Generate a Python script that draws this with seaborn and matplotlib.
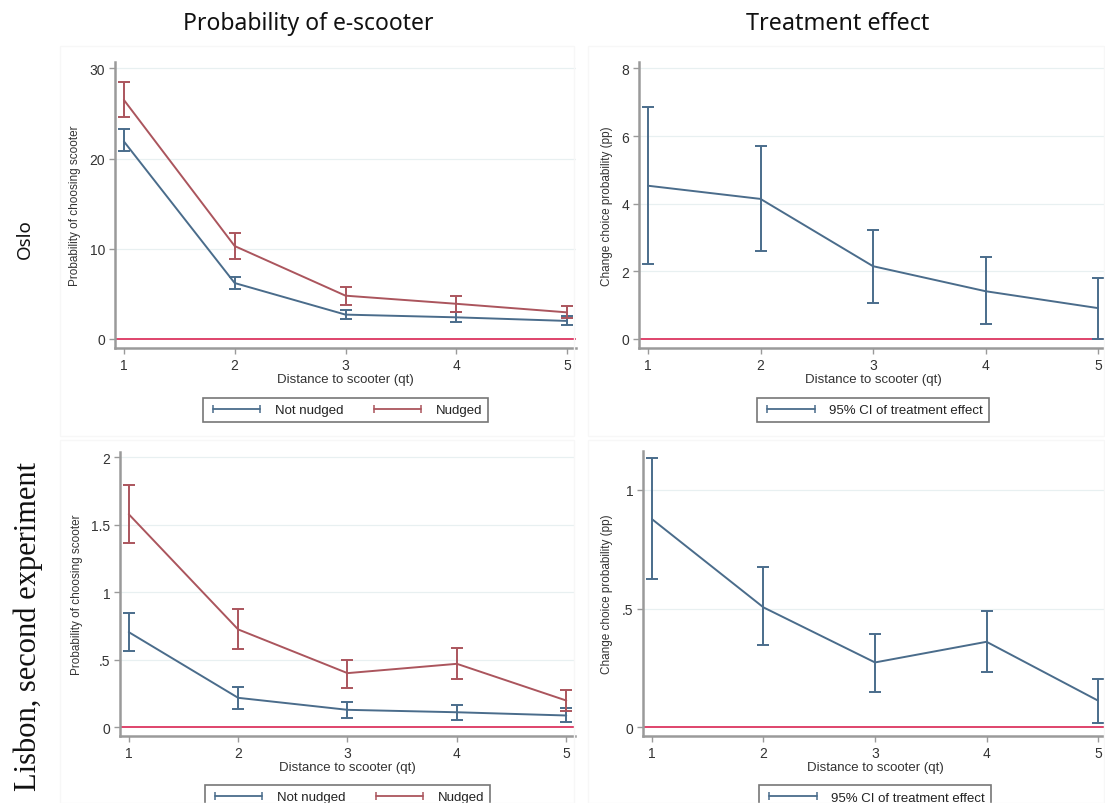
import matplotlib
matplotlib.use("Agg")
import matplotlib.pyplot as plt
import numpy as np
import pandas as pd
import seaborn as sns
from matplotlib.lines import Line2D
from matplotlib.patches import Rectangle

# ---- data -------------------------------------------------------------
distance = [1, 2, 3, 4, 5]

oslo_not_nudged = [21.9, 6.2, 2.7, 2.4, 2.0]
oslo_not_nudged_lo = [20.8, 5.5, 2.2, 1.9, 1.55]
oslo_not_nudged_hi = [23.3, 6.9, 3.2, 2.95, 2.5]
oslo_nudged = [26.5, 10.3, 4.8, 3.9, 2.95]
oslo_nudged_lo = [24.6, 8.9, 3.8, 2.95, 2.3]
oslo_nudged_hi = [28.5, 11.7, 5.8, 4.8, 3.7]
oslo_effect = [4.53, 4.14, 2.15, 1.41, 0.91]
oslo_effect_lo = [2.2, 2.61, 1.06, 0.44, 0.0]
oslo_effect_hi = [6.87, 5.71, 3.23, 2.43, 1.79]

lisbon_not_nudged = [0.705, 0.218, 0.129, 0.111, 0.087]
lisbon_not_nudged_lo = [0.564, 0.136, 0.067, 0.054, 0.037]
lisbon_not_nudged_hi = [0.847, 0.297, 0.186, 0.168, 0.141]
lisbon_nudged = [1.579, 0.725, 0.401, 0.470, 0.198]
lisbon_nudged_lo = [1.369, 0.582, 0.290, 0.359, 0.119]
lisbon_nudged_hi = [1.795, 0.874, 0.502, 0.587, 0.275]
lisbon_effect = [0.877, 0.505, 0.273, 0.360, 0.112]
lisbon_effect_lo = [0.624, 0.346, 0.150, 0.231, 0.017]
lisbon_effect_hi = [1.135, 0.677, 0.394, 0.488, 0.203]

column_titles = ["Probability of e-scooter", "Treatment effect"]
row_titles = ["Oslo", "Lisbon, second experiment"]
group_labels = ["Not nudged", "Nudged"]
effect_label = "95% CI of treatment effect"
x_label = "Distance to scooter (qt)"
prob_label = "Probability of choosing scooter"
effect_ylabel = "Change choice probability (pp)"

oslo_prob_ticks = [0, 10, 20, 30]
oslo_prob_ticklabels = ["0", "10", "20", "30"]
oslo_eff_ticks = [0, 2, 4, 6, 8]
oslo_eff_ticklabels = ["0", "2", "4", "6", "8"]
lisbon_prob_ticks = [0, 0.5, 1, 1.5, 2]
lisbon_prob_ticklabels = ["0", ".5", "1", "1.5", "2"]
lisbon_eff_ticks = [0, 0.5, 1]
lisbon_eff_ticklabels = ["0", ".5", "1"]

# ---- style ------------------------------------------------------------
sns.set_theme(style="white")
plt.rcParams["font.family"] = ["Liberation Sans", "DejaVu Sans"]

BLUE = "#4a6c8b"
RED = "#ab555d"
ZERO = "#dc3560"
SPINE = "#9a9a9a"
GRID = "#e8f0f1"
TEXT = "#333333"
HEAD_FONT = ["Noto Sans", "DejaVu Sans"]

W, H = 1105, 804
fig = plt.figure(figsize=(W / 100, H / 100), dpi=100)


def add_axes_px(left, top, right, bottom):
    return fig.add_axes([left / W, 1 - bottom / H, (right - left) / W, (bottom - top) / H])


# faint panel frames
for (l, t, r, b) in [(60, 47, 574, 437), (588, 47, 1104, 437),
                     (60, 441, 574, 804), (588, 441, 1104, 804)]:
    fig.patches.append(Rectangle((l / W, 1 - b / H), (r - l) / W, (b - t) / H,
                                 transform=fig.transFigure, fill=False,
                                 edgecolor="#f7f7f7", lw=1.0, zorder=0))


def style_axes(ax, ylim, ticks, ticklabels, ylabel):
    ax.set_xlim(0.92, 5.08)
    ax.set_ylim(*ylim)
    ax.set_xticks(distance)
    ax.set_xticklabels([str(d) for d in distance])
    ax.set_yticks(ticks)
    ax.set_yticklabels(ticklabels)
    for t in ticks:
        if t != 0:
            ax.axhline(t, color=GRID, lw=0.9, zorder=0)
    ax.axhline(0, color=ZERO, lw=1.3, zorder=1)
    for s in ["top", "right"]:
        ax.spines[s].set_visible(False)
    for s in ["left", "bottom"]:
        ax.spines[s].set_color(SPINE)
        ax.spines[s].set_linewidth(1.8)
    ax.tick_params(axis="both", which="major", direction="out", length=4, width=1,
                   color=SPINE, labelsize=10, labelcolor=TEXT, pad=3, left=True, bottom=True)
    ax.set_xlabel(x_label, fontsize=9.5, color=TEXT, labelpad=1)
    ax.set_ylabel(ylabel, fontsize=8.5, color=TEXT, labelpad=6)


def draw_series(ax, mid, lo, hi, color, name):
    df = pd.DataFrame({"distance": distance, "value": mid, "group": name})
    sns.lineplot(data=df, x="distance", y="value", color=color, lw=1.4, ax=ax,
                 legend=False, zorder=3)
    mid_a, lo_a, hi_a = np.array(mid), np.array(lo), np.array(hi)
    ax.errorbar(distance, mid_a, yerr=[mid_a - lo_a, hi_a - mid_a], fmt="none",
                ecolor=color, elinewidth=1.4, capsize=4, capthick=1.4, zorder=3)


def add_legend(ax, labels, colors, y):
    handles = [Line2D([0], [0], color=c, lw=1.3, marker="|", markersize=6,
                      markeredgewidth=1.1) for c in colors]
    leg = ax.legend(handles, labels, loc="upper center", bbox_to_anchor=(0.5, y),
                    ncol=len(labels), numpoints=2, frameon=True, fancybox=False,
                    edgecolor="#555555", fontsize=9.5, handlelength=4.2,
                    columnspacing=2.0, handletextpad=0.8, borderpad=0.45)
    leg.get_frame().set_linewidth(1.2)
    for t in leg.get_texts():
        t.set_color("#222222")


# ---- Oslo, probability --------------------------------------------------
ax1 = add_axes_px(115, 63, 576, 349)
draw_series(ax1, oslo_not_nudged, oslo_not_nudged_lo, oslo_not_nudged_hi, BLUE, group_labels[0])
draw_series(ax1, oslo_nudged, oslo_nudged_lo, oslo_nudged_hi, RED, group_labels[1])
style_axes(ax1, (-1.0, 30.7), oslo_prob_ticks, oslo_prob_ticklabels, prob_label)
add_legend(ax1, group_labels, [BLUE, RED], -0.152)

# ---- Oslo, treatment effect ---------------------------------------------
ax2 = add_axes_px(639, 63, 1107, 349)
draw_series(ax2, oslo_effect, oslo_effect_lo, oslo_effect_hi, BLUE, effect_label)
style_axes(ax2, (-0.27, 8.19), oslo_eff_ticks, oslo_eff_ticklabels, effect_ylabel)
add_legend(ax2, [effect_label], [BLUE], -0.152)

# ---- Lisbon, probability ------------------------------------------------
ax3 = add_axes_px(120, 453, 575, 737)
draw_series(ax3, lisbon_not_nudged, lisbon_not_nudged_lo, lisbon_not_nudged_hi, BLUE, group_labels[0])
draw_series(ax3, lisbon_nudged, lisbon_nudged_lo, lisbon_nudged_hi, RED, group_labels[1])
style_axes(ax3, (-0.065, 2.04), lisbon_prob_ticks, lisbon_prob_ticklabels, prob_label)
add_legend(ax3, group_labels, [BLUE, RED], -0.150)

# ---- Lisbon, treatment effect -------------------------------------------
ax4 = add_axes_px(643, 452, 1107, 737)
draw_series(ax4, lisbon_effect, lisbon_effect_lo, lisbon_effect_hi, BLUE, effect_label)
style_axes(ax4, (-0.037, 1.164), lisbon_eff_ticks, lisbon_eff_ticklabels, effect_ylabel)
add_legend(ax4, [effect_label], [BLUE], -0.150)

# ---- column and row headings --------------------------------------------
fig.text(308 / W, 1 - 24 / H, column_titles[0], ha="center", va="center",
         fontsize=16.5, family=HEAD_FONT, color="#111111")
fig.text(838 / W, 1 - 24 / H, column_titles[1], ha="center", va="center",
         fontsize=16.8, family=HEAD_FONT, color="#111111")
fig.text(25 / W, 1 - 239 / H, row_titles[0], ha="center", va="center", rotation=90,
         fontsize=13.5, family=HEAD_FONT, color="#111111")
fig.text(28 / W, 1 - 627 / H, row_titles[1], ha="center", va="center", rotation=90,
         fontsize=22, family=["Liberation Serif", "DejaVu Serif"], color="#111111")

fig.savefig("out.png", dpi=100, facecolor="white")
